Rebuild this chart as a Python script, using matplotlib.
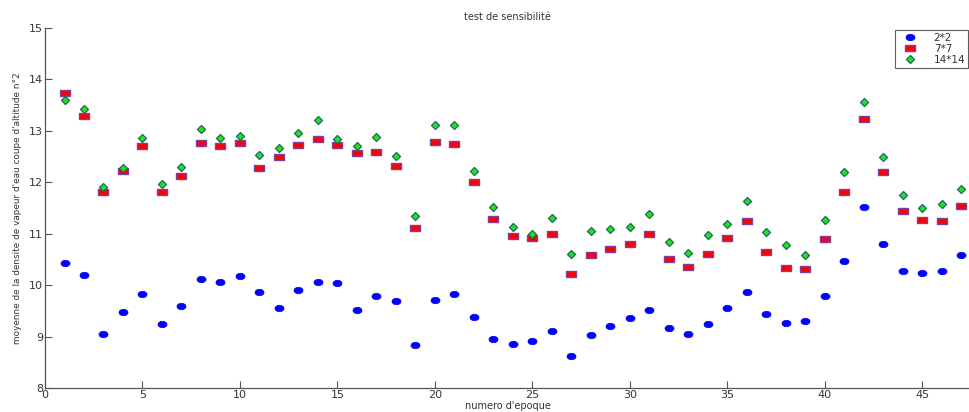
import numpy as np
import matplotlib
matplotlib.use("Agg")
import matplotlib.pyplot as plt
from matplotlib.path import Path

# ── Data ──────────────────────────────────────────────────
epochs = list(range(1, 48))

s2x2 = [10.44, 10.19, 9.05, 9.47, 9.82, 9.25, 9.59, 10.13, 10.07, 10.17,
        9.87, 9.55, 9.90, 10.07, 10.05, 9.51, 9.79, 9.70, 8.84, 9.71,
        9.82, 9.39, 8.96, 8.85, 8.92, 9.11, 8.63, 9.03, 9.20, 9.36,
        9.51, 9.16, 9.05, 9.25, 9.55, 9.87, 9.45, 9.27, 9.31, 9.80,
        10.48, 11.52, 10.80, 10.27, 10.23, 10.27, 10.58]

s7x7 = [13.73, 13.29, 11.81, 12.23, 12.71, 11.81, 12.13, 12.77, 12.71, 12.77,
        12.28, 12.49, 12.72, 12.85, 12.72, 12.57, 12.59, 12.32, 11.11, 12.79,
        12.75, 12.01, 11.28, 10.95, 10.91, 10.99, 10.21, 10.59, 10.71, 10.80,
        10.99, 10.51, 10.36, 10.61, 10.92, 11.25, 10.64, 10.34, 10.32, 10.89,
        11.82, 13.24, 12.21, 11.44, 11.27, 11.24, 11.54]

s14x14 = [13.61, 13.42, 11.90, 12.28, 12.86, 11.97, 12.30, 13.03, 12.87, 12.90,
          12.54, 12.67, 12.95, 13.22, 12.85, 12.71, 12.88, 12.51, 11.35, 13.12,
          13.11, 12.22, 11.52, 11.14, 11.00, 11.30, 10.60, 11.06, 11.09, 11.14,
          11.38, 10.84, 10.62, 10.97, 11.19, 11.63, 11.04, 10.78, 10.58, 11.27,
          12.21, 13.56, 12.49, 11.76, 11.51, 11.57, 11.87]

labels = ["2*2", "7*7", "14*14"]

# ── Markers (the original image is stretched horizontally) ──
t = np.linspace(0, 2 * np.pi, 40)
ellipse = Path(np.column_stack([1.4 * np.cos(t), np.sin(t)]), closed=True)
rect = Path([(-1.5, -1), (1.5, -1), (1.5, 1), (-1.5, 1), (-1.5, -1)], closed=True)
diamond = Path([(0, -1), (1, 0), (0, 1), (-1, 0), (0, -1)], closed=True)

TXT = "#333333"
AX = "#555555"

fig = plt.figure(figsize=(9.7, 4.12), dpi=100, facecolor="white")
ax = fig.add_axes([0.0464, 0.058, 0.9536, 0.874])

ax.plot(epochs, s2x2, linestyle="none", marker=ellipse, markersize=6.5,
        markerfacecolor="#0000ff", markeredgecolor="#0000ee", markeredgewidth=0.5,
        label=labels[0])
ax.plot(epochs, s7x7, linestyle="none", marker=rect, markersize=7.5,
        markerfacecolor="#ff0000", markeredgecolor="#8040a0", markeredgewidth=1.0,
        label=labels[1])
ax.plot(epochs, s14x14, linestyle="none", marker=diamond, markersize=5.8,
        markerfacecolor="#22e022", markeredgecolor="#206a5a", markeredgewidth=0.9,
        label=labels[2])

ax.set_xlim(0, 47.45)
ax.set_ylim(8, 15)
ax.set_xticks(range(0, 50, 5))
ax.set_yticks(range(8, 16))

for side in ("top", "right"):
    ax.spines[side].set_visible(False)
for side in ("left", "bottom"):
    ax.spines[side].set_color(AX)
    ax.spines[side].set_linewidth(0.9)

ax.tick_params(direction="in", length=5, width=0.8, colors=AX,
               labelcolor=TXT, labelsize=8, pad=1.5)

ax.set_title("test de sensibilité", fontsize=7, color=TXT, pad=6)
ax.set_xlabel("numero d'epoque", fontsize=7, color=TXT)
ax.xaxis.set_label_coords(0.5, -0.036)
ax.set_ylabel("moyenne de la densite de vapeur d'eau coupe d'altitude n\u00b02",
              fontsize=6.4, color=TXT, labelpad=5)

leg = ax.legend(loc="upper right", bbox_to_anchor=(1.0, 1.0), fontsize=7.5,
                frameon=True, fancybox=False, borderpad=0.3, labelspacing=0.1,
                handletextpad=1.2, handlelength=2.2, borderaxespad=0.15)
leg.get_frame().set_edgecolor("#333333")
leg.get_frame().set_linewidth(0.8)
for txt in leg.get_texts():
    txt.set_color(TXT)

fig.savefig("out.png", dpi=100, facecolor="white")
